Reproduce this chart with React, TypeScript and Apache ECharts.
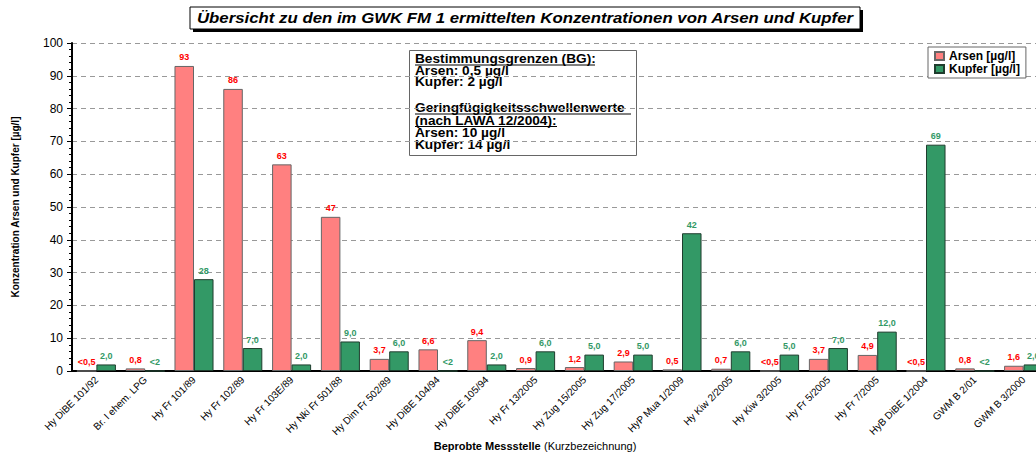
import React, { useEffect, useRef } from "react";
import * as echarts from "echarts";

const categories = [
  "Hy DiBE 101/92", "Br. I ehem. LPG", "Hy Fr 101/89", "Hy Fr 102/89", "Hy Fr 103E/89",
  "Hy Nki Fr 501/88", "Hy Dim Fr 502/89", "Hy DiBE 104/94", "Hy DiBE 105/94", "Hy Fr 13/2005",
  "Hy Zug 15/2005", "Hy Zug 17/2005", "HyP Mua 1/2009", "Hy Kiw 2/2005", "Hy Kiw 3/2005",
  "Hy Fr 5/2005", "Hy Fr 7/2005", "HyB DiBE 1/2004", "GWM B 2/01", "GWM B 3/2000",
];
const arsen = [0, 0.8, 93, 86, 63, 47, 3.7, 6.6, 9.4, 0.9, 1.2, 2.9, 0.5, 0.7, 0, 3.7, 4.9, 0, 0.8, 1.6];
const kupfer = [2.0, 0, 28, 7.0, 2.0, 9.0, 6.0, 0, 2.0, 6.0, 5.0, 5.0, 42, 6.0, 5.0, 7.0, 12.0, 69, 0, 2.0];
const arsenLabels = ["<0,5", "0,8", "93", "86", "63", "47", "3,7", "6,6", "9,4", "0,9", "1,2", "2,9", "0,5", "0,7", "<0,5", "3,7", "4,9", "<0,5", "0,8", "1,6"];
const kupferLabels = ["2,0", "<2", "28", "7,0", "2,0", "9,0", "6,0", "<2", "2,0", "6,0", "5,0", "5,0", "42", "6,0", "5,0", "7,0", "12,0", "69", "<2", "2,0"];

const titleText = "Übersicht zu den im GWK FM 1 ermittelten Konzentrationen von Arsen und Kupfer";
const noteLines = [
  "Bestimmungsgrenzen (BG):",
  "Arsen: 0,5 µg/l",
  "Kupfer: 2 µg/l",
  "Geringfügigkeitsschwellenwerte ",
  "(nach LAWA 12/2004):",
  "Arsen: 10 µg/l",
  "Kupfer: 14 µg/l",
];

const FONT = "'Liberation Sans', Arial, sans-serif";

export default function App() {
  const ref = useRef<HTMLDivElement>(null);
  useEffect(() => {
    document.body.style.margin = "0";
    const chart = echarts.init(ref.current!, null, { renderer: "svg" });
    const noteY = [59, 70.5, 82, 108, 120.5, 133, 145];
    const underlines = [
      { y: 65, x2: 595 },
      { y: 114, x2: 631 },
      { y: 126.5, x2: 557 },
    ];
    chart.setOption({
      animation: false,
      backgroundColor: "#fff",
      textStyle: { fontFamily: FONT },
      grid: { left: 72, top: 43, height: 328, width: 976 },
      legend: {
        left: 928,
        top: 47,
        orient: "vertical",
        icon: "rect",
        itemWidth: 9,
        itemHeight: 8,
        itemGap: 1,
        padding: [3, 6, 3, 6],
        borderColor: "#666",
        borderWidth: 1,
        backgroundColor: "#fff",
        textStyle: { fontSize: 12, lineHeight: 12, fontWeight: "bold", color: "#000", fontFamily: FONT },
        data: ["Arsen [µg/l]", "Kupfer [µg/l]"],
      },
      xAxis: {
        type: "category",
        data: categories,
        axisLine: { lineStyle: { color: "#000", width: 2 } },
        axisTick: { length: 4, lineStyle: { color: "#000" } },
        axisLabel: { rotate: 45, interval: 0, fontSize: 10, color: "#000", margin: 7, fontFamily: FONT },
      },
      yAxis: {
        type: "value",
        min: 0,
        max: 100,
        interval: 10,
        name: "Konzentration Arsen und Kupfer [µg/l]",
        nameLocation: "middle",
        nameGap: 52,
        nameRotate: 90,
        nameTextStyle: { fontSize: 10, fontWeight: "bold", color: "#000", fontFamily: "'Liberation Sans Narrow', 'Liberation Sans', Arial, sans-serif" },
        axisLine: { show: true, lineStyle: { color: "#000", width: 2 } },
        axisTick: { show: true, length: 5, lineStyle: { color: "#000" } },
        minorTick: { show: true, splitNumber: 5, length: 3, lineStyle: { color: "#000" } },
        axisLabel: { fontSize: 12, color: "#000", margin: 9, fontFamily: FONT },
        splitLine: { lineStyle: { color: "#999", type: [5, 4], width: 1 } },
      },
      series: [
        {
          name: "Arsen [µg/l]",
          type: "bar",
          data: arsen,
          barGap: "0%",
          barCategoryGap: "20%",
          itemStyle: { color: "#FF8080", borderColor: "#666", borderWidth: 1 },
          label: {
            show: true,
            position: "top",
            distance: 4,
            fontSize: 9,
            fontWeight: "bold",
            color: "#FF0000",
            fontFamily: FONT,
            formatter: (p: any) => arsenLabels[p.dataIndex],
          },
        },
        {
          name: "Kupfer [µg/l]",
          type: "bar",
          data: kupfer,
          itemStyle: { color: "#339966", borderColor: "#1f3d2e", borderWidth: 1 },
          label: {
            show: true,
            position: "top",
            distance: 4,
            fontSize: 9,
            fontWeight: "bold",
            color: "#339966",
            fontFamily: FONT,
            formatter: (p: any) => kupferLabels[p.dataIndex],
          },
        },
      ],
      graphic: [
        { type: "rect", shape: { x: 193, y: 10, width: 670, height: 22 }, style: { fill: "#000" } },
        { type: "rect", shape: { x: 190, y: 7, width: 670, height: 22 }, style: { fill: "#fff", stroke: "#000", lineWidth: 1 } },
        {
          type: "text",
          x: 525,
          y: 18,
          scaleX: 1.2,
          style: {
            text: titleText,
            fontSize: 14,
            fontWeight: "bold",
            fontStyle: "italic",
            fill: "#000",
            fontFamily: FONT,
            textAlign: "center",
            textVerticalAlign: "middle",
          },
        },
        { type: "rect", shape: { x: 409.5, y: 50.5, width: 227, height: 105 }, style: { fill: "#fff", stroke: "#666", lineWidth: 1 } },
        ...noteLines.map((t, i) => ({
          type: "text",
          x: 415,
          y: noteY[i],
          scaleX: 1.14,
          style: {
            text: t,
            fontSize: 12,
            fontWeight: "bold",
            fill: "#000",
            fontFamily: FONT,
            textAlign: "left",
            textVerticalAlign: "middle",
          },
        })),
        ...underlines.map((u) => ({
          type: "line",
          shape: { x1: 415, y1: u.y, x2: u.x2, y2: u.y },
          style: { stroke: "#000", lineWidth: 1 },
        })),
        {
          type: "text",
          x: 535,
          y: 446,
          style: {
            text: "{b|Beprobte Messstelle} {n|(Kurzbezeichnung)}",
            rich: {
              b: { fontSize: 11, fontWeight: "bold", fill: "#000", fontFamily: FONT },
              n: { fontSize: 11, fill: "#000", fontFamily: FONT },
            },
            textAlign: "center",
            textVerticalAlign: "middle",
          },
        },
      ],
    });
    return () => chart.dispose();
  }, []);
  return (
    <div style={{ width: 1036, height: 452, position: "absolute", left: 0, top: 0, overflow: "hidden" }}>
      <div ref={ref} style={{ width: 1060, height: 452 }} />
    </div>
  );
}
